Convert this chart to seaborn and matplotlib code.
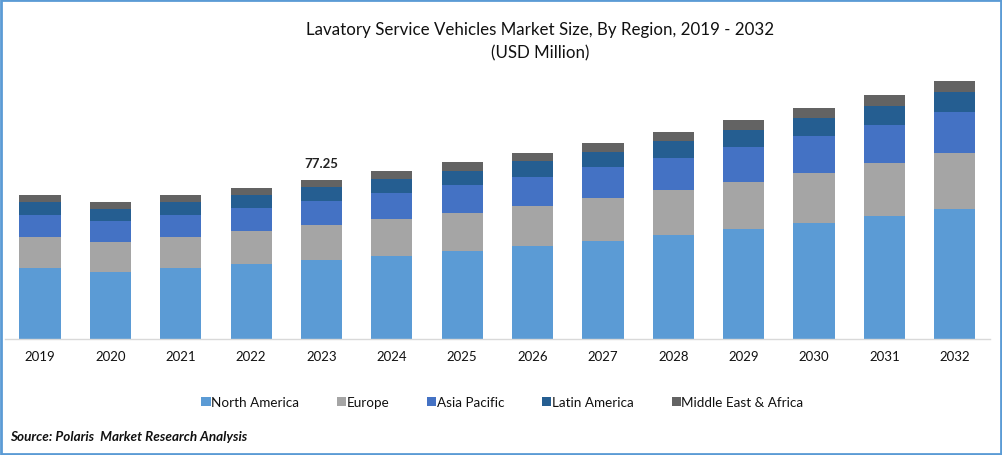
import matplotlib
matplotlib.use("Agg")
import matplotlib.pyplot as plt
import seaborn as sns
import pandas as pd
from matplotlib.patches import Rectangle

years = ["2019", "2020", "2021", "2022", "2023", "2024", "2025",
         "2026", "2027", "2028", "2029", "2030", "2031", "2032"]
regions = ["North America", "Europe", "Asia Pacific", "Latin America", "Middle East & Africa"]
north_america = [34.5, 32.5, 34.5, 36.4, 38.4, 40.3, 42.8, 45.2, 47.6, 50.5, 53.4, 56.4, 59.8, 63.2]
europe = [15.1, 14.6, 15.1, 16.0, 17.0, 18.0, 18.5, 19.4, 20.9, 21.9, 22.8, 24.3, 25.7, 27.2]
asia_pacific = [10.7, 10.2, 10.7, 11.2, 11.7, 12.6, 13.6, 14.1, 15.1, 15.5, 17.0, 18.0, 18.5, 19.9]
latin_america = [6.3, 5.8, 6.3, 6.3, 6.8, 6.8, 6.8, 7.8, 7.3, 8.3, 8.3, 8.7, 9.2, 9.7]
middle_east = [3.4, 3.4, 3.4, 3.4, 3.35, 3.9, 4.4, 3.9, 4.4, 4.4, 4.9, 4.9, 5.3, 5.3]
colors = ["#5B9BD5", "#A5A5A5", "#4472C4", "#255E91", "#636363"]
label_year = "2023"
label_text = "77.25"

sns.set_style("white")
plt.rcParams["font.family"] = ["Lato", "DejaVu Sans"]

W, H = 1002, 456
df = pd.DataFrame({"year": years, "North America": north_america, "Europe": europe,
                   "Asia Pacific": asia_pacific, "Latin America": latin_america,
                   "Middle East & Africa": middle_east})

fig = plt.figure(figsize=(W / 100, H / 100), dpi=100)
ax = fig.add_axes([4.9 / W, 1 - 340 / H, 985 / W, 279 / H])

bottom = pd.Series([0.0] * len(df))
for region, color in zip(regions, colors):
    sns.barplot(data=df, x="year", y=region, bottom=bottom, color=color, saturation=1,
                width=0.585, label=region, ax=ax, legend=False, linewidth=0)
    bottom = bottom + df[region]

ax.set_xlim(-0.5, 13.5)
ax.set_ylim(0, 135.5)
ax.set_xlabel("")
ax.set_ylabel("")
ax.set_yticks([])
sns.despine(ax=ax, left=True)
ax.spines["bottom"].set_color("#D9D9D9")
ax.spines["bottom"].set_linewidth(1.0)
ax.tick_params(axis="x", length=0, pad=8, labelsize=9.5, labelcolor="#111111")

# data label on the base year only
i = years.index(label_year)
ax.annotate(label_text, (i, bottom[i]), xytext=(0, 8), textcoords="offset points",
            ha="center", va="bottom", fontsize=9.5, fontweight="bold", color="#222222")

fig.text(540.5 / W, 1 - 30.5 / H, "Lavatory Service Vehicles Market Size, By Region, 2019 - 2032",
         ha="center", va="center", fontsize=12.2, color="#111111")
fig.text(540.5 / W, 1 - 53.5 / H, "(USD Million)", ha="center", va="center", fontsize=12.2, color="#111111")

handles, labels = ax.get_legend_handles_labels()
fig.legend(handles, labels, loc="center", bbox_to_anchor=(502.5 / W, 1 - 403 / H), ncol=5, frameon=False,
           fontsize=9.7, handlelength=0.68, handleheight=0.68, handletextpad=0.05, columnspacing=2.8,
           labelcolor="#111111")

fig.text(10.5 / W, 1 - 437 / H, "Source: Polaris  Market Research Analysis", ha="left", va="center",
         fontsize=9.7, fontweight="bold", fontstyle="italic", color="#111111")

# blue frame round the picture
fig.add_artist(Rectangle((1 / W, 1 / H), (W - 2) / W, (H - 2) / H, transform=fig.transFigure,
                         fill=False, edgecolor="#5B9BD5", linewidth=2))

fig.savefig("out.png", dpi=100)
plt.close(fig)
